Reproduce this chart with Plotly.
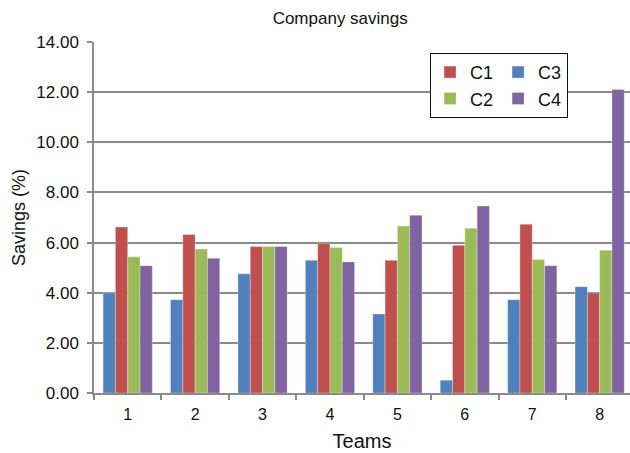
import plotly.graph_objects as go

teams = ["1", "2", "3", "4", "5", "6", "7", "8"]
c1 = [6.62, 6.32, 5.84, 5.96, 5.29, 5.89, 6.73, 3.99]
c2 = [5.43, 5.74, 5.84, 5.80, 6.66, 6.57, 5.32, 5.69]
c3 = [3.99, 3.72, 4.76, 5.29, 3.15, 0.51, 3.72, 4.24]
c4 = [5.08, 5.37, 5.84, 5.23, 7.09, 7.46, 5.08, 12.11]
y_ticks = [0, 2, 4, 6, 8, 10, 12, 14]

colors = {"C1": "#C0504D", "C2": "#9BBB59", "C3": "#4F81BD", "C4": "#8064A2"}
ranks = {"C1": 1, "C2": 2, "C3": 3, "C4": 4}
groups = {"C1": "a", "C2": "a", "C3": "b", "C4": "b"}

fig = go.Figure()
for name, vals in [("C3", c3), ("C1", c1), ("C2", c2), ("C4", c4)]:
    fig.add_trace(go.Bar(
        x=teams, y=vals, name=name,
        marker=dict(color=colors[name], line=dict(color="rgba(255,255,255,0.6)", width=0.5)),
        legendrank=ranks[name], legendgroup=groups[name],
    ))

font_family = "Liberation Sans, Arial, Helvetica, sans-serif"
fig.update_layout(
    width=630, height=453,
    margin=dict(l=94, r=0, t=42, b=60),
    paper_bgcolor="white", plot_bgcolor="white",
    font=dict(family=font_family, color="#111", size=17),
    title=dict(text="Company savings", x=0.54, xanchor="center", y=0.96, yanchor="middle",
               font=dict(size=17, color="#111")),
    barmode="group", bargap=0.27, bargroupgap=0,
    showlegend=True,
    legend=dict(
        orientation="h", traceorder="grouped",
        x=0.627, xanchor="left", y=0.969, yanchor="top",
        bordercolor="#111", borderwidth=1, bgcolor="white",
        font=dict(size=18), tracegroupgap=14,
    ),
    xaxis=dict(
        type="category", range=[-0.5, 7.45],
        title=dict(text="Teams", font=dict(size=20), standoff=12),
        showgrid=False, showline=True, linecolor="#8a8a8a", linewidth=1.5,
        ticks="outside", tickson="boundaries", ticklen=5, tickcolor="#8a8a8a", tickwidth=1.5,
        tickfont=dict(size=16), ticklabelstandoff=6, fixedrange=True,
    ),
    yaxis=dict(
        range=[0, 14], tickvals=y_ticks, tickformat=".2f",
        title=dict(text="Savings (%)", font=dict(size=18), standoff=6),
        showgrid=True, gridcolor="#8a8a8a", gridwidth=1.5,
        showline=True, linecolor="#8a8a8a", linewidth=1.5,
        ticks="outside", ticklen=5, tickcolor="#8a8a8a", tickwidth=1.5,
        tickfont=dict(size=17), ticklabelstandoff=5, zeroline=False,
    ),
)

fig.write_html("out.html")
